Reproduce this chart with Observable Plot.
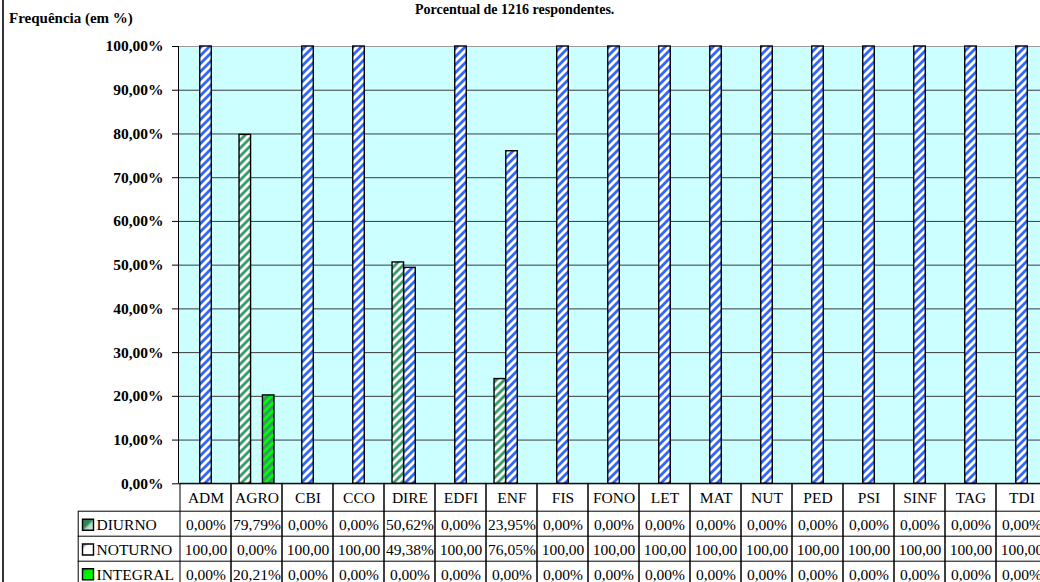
<!DOCTYPE html>
<html><head><meta charset="utf-8">
<script src="https://cdn.jsdelivr.net/npm/d3@7"></script>
<script src="https://cdn.jsdelivr.net/npm/@observablehq/plot@0.6"></script>
<style>
html,body{margin:0;padding:0;background:#fff;overflow:hidden;}
#wrap{position:relative;width:1040px;height:582px;overflow:hidden;background:#fff;}
.t{position:absolute;font-family:"Liberation Serif","Times New Roman",serif;font-weight:bold;white-space:nowrap;line-height:1;color:#000;}
</style></head><body>
<svg width="0" height="0" style="position:absolute">
<defs>
<pattern id="pD" patternUnits="userSpaceOnUse" width="8" height="8">
<rect width="8" height="8" fill="#ffffff"/>
<path d="M-2,2 L2,-2 M0,8 L8,0 M6,10 L10,6" stroke="#339966" stroke-width="2.8"/>
</pattern>
<pattern id="pN" patternUnits="userSpaceOnUse" width="8" height="8">
<rect width="8" height="8" fill="#ffffff"/>
<path d="M-2,2 L2,-2 M0,8 L8,0 M6,10 L10,6" stroke="#3366ff" stroke-width="2.8"/>
</pattern>
<pattern id="pI" patternUnits="userSpaceOnUse" width="8" height="8">
<rect width="8" height="8" fill="#339966"/>
<path d="M-2,2 L2,-2 M0,8 L8,0 M6,10 L10,6" stroke="#00ff00" stroke-width="2.6"/>
</pattern>
<linearGradient id="kD" x1="0" y1="0" x2="1" y2="1">
<stop offset="0" stop-color="#2a7a4f"/><stop offset="0.45" stop-color="#2f8a58"/><stop offset="0.6" stop-color="#a9d8bd"/><stop offset="1" stop-color="#e6f5ec"/>
</linearGradient>
<linearGradient id="kN" x1="0" y1="0" x2="1" y2="1">
<stop offset="0" stop-color="#3366ff"/><stop offset="0.3" stop-color="#ffffff"/><stop offset="1" stop-color="#ffffff"/>
</linearGradient>
<linearGradient id="kI" x1="0" y1="0" x2="1" y2="1">
<stop offset="0" stop-color="#2f8a58"/><stop offset="0.3" stop-color="#00ee00"/><stop offset="1" stop-color="#00ff00"/>
</linearGradient>
</defs></svg>
<div id="wrap">
<div id="chart" style="position:absolute;left:0;top:0"></div>
<div class="t" style="left:9px;top:10.7px;font-size:15px">Frequência (em %)</div>
<div class="t" style="left:415px;top:3.3px;font-size:14px">Porcentual de 1216 respondentes.</div>
<div style="position:absolute;left:2px;top:0;width:2px;height:582px;background:#333"></div>
</div>
<script>
const categories = ["ADM","AGRO","CBI","CCO","DIRE","EDFI","ENF","FIS","FONO","LET","MAT","NUT","PED","PSI","SINF","TAG","TDI"];
const diurno   = [0,79.79,0,0,50.62,0,23.95,0,0,0,0,0,0,0,0,0,0];
const noturno  = [100,0,100,100,49.38,100,76.05,100,100,100,100,100,100,100,100,100,100];
const integral = [0,20.21,0,0,0,0,0,0,0,0,0,0,0,0,0,0,0];
const seriesNames = ["DIURNO","NOTURNO","INTEGRAL"];
const yTicks = [0,10,20,30,40,50,60,70,80,90,100];

// layout (pixels)
const W = 1048, H = 582, mLeft = 178, mTop = 46, zeroPx = 483.3;
const k = (zeroPx - mTop) / 100;
const yAt = px => (zeroPx - px) / k;
const yMin = yAt(H);
const band = (W - mLeft) / categories.length;
const barW = 11.7;
const barInset = (band - barW) / 2;
const labelColLeft = 77.7;

const rows = categories.map((c, i) => ({cat: c, DIURNO: diurno[i], NOTURNO: noturno[i], INTEGRAL: integral[i]}));
const fmt = v => v >= 100 ? "100,00" : v.toFixed(2).replace(".", ",") + "%";

const series = [
  {name: seriesNames[0], fill: "url(#pD)", key: "url(#kD)", dx: -barW, rowPx: 524.8},
  {name: seriesNames[1], fill: "url(#pN)", key: "url(#kN)", dx: 0, rowPx: 549.6},
  {name: seriesNames[2], fill: "url(#pI)", key: "url(#kI)", dx: barW, rowPx: 574.4}
];

const marks = [
  Plot.frame({fill: "#ccffff", stroke: "none", insetBottom: H - zeroPx}),
  Plot.ruleY(yTicks.filter(t => t > 0 && t < 100), {stroke: "#3a3a3a", strokeWidth: 1}),
  Plot.ruleY([100], {stroke: "#9a9a9a"}),
];
for (const s of series) {
  marks.push(Plot.barY(rows.filter(d => d[s.name] > 0), {
    x: "cat", y1: 0, y2: s.name, fill: s.fill, stroke: "black", strokeWidth: 1.4,
    insetLeft: barInset, insetRight: barInset, dx: s.dx
  }));
}
marks.push(
  Plot.axisY({ticks: yTicks, tickFormat: d => d.toFixed(2).replace(".", ",") + "%", tickSize: 6, tickPadding: 9,
    fontWeight: "bold", fontSize: 15.5, label: null}),
  (index, scales, values, dims) => {
    const line = d3.create("svg:line")
      .attr("x1", dims.marginLeft + 0.5).attr("x2", dims.marginLeft + 0.5)
      .attr("y1", scales.y(0)).attr("y2", scales.y(100))
      .attr("stroke", "black");
    return line.node();
  },
  // data table
  Plot.barY(categories, {x: d => d, y1: 0, y2: yAt(H + 5), fill: "none", stroke: "black", strokeWidth: 1}),
  Plot.frame({stroke: "black", fill: "none", insetTop: 510.7 - mTop, insetLeft: -(mLeft - labelColLeft), insetRight: -5, insetBottom: -5}),
  Plot.ruleY([yAt(535.7), yAt(560.7)], {stroke: "black", insetLeft: -(mLeft - labelColLeft)}),
  Plot.ruleY([0], {stroke: "black"}),
  Plot.text(categories, {x: d => d, y: () => yAt(497.6), text: d => d, fontSize: 15.5})
);
for (const s of series) {
  marks.push(
    Plot.text(rows, {x: "cat", y: () => yAt(s.rowPx), text: d => fmt(d[s.name]), fontSize: 15.5}),
    Plot.text([s.name], {frameAnchor: "left", y: () => yAt(s.rowPx), dx: 96 - mLeft, textAnchor: "start", text: d => d, fontSize: 15.5}),
    Plot.dot([s.name], {frameAnchor: "left", y: () => yAt(s.rowPx - 0.6), dx: 87.5 - mLeft, symbol: "square", r: 6.2,
      fill: s.key, stroke: "black", strokeWidth: 1.4})
  );
}

const chart = Plot.plot({
  width: W, height: H,
  marginLeft: mLeft, marginRight: 0, marginTop: mTop, marginBottom: 0,
  x: {type: "band", domain: categories, padding: 0, axis: null},
  y: {domain: [yMin, 100], axis: null},
  style: {fontFamily: '"Liberation Serif","Times New Roman",serif', fontSize: "15px", color: "black", background: "transparent", maxWidth: "none"},
  marks
});
document.getElementById("chart").appendChild(chart);
</script>
</body></html>
